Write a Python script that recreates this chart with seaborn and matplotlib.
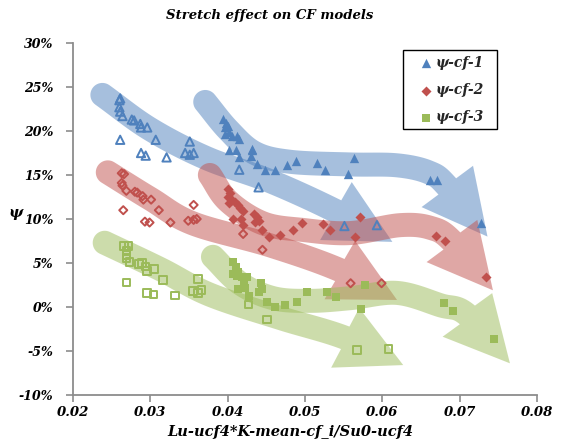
import numpy as np
import matplotlib
matplotlib.use("Agg")
import matplotlib.pyplot as plt
import seaborn as sns
from matplotlib.patches import Polygon, Rectangle
from matplotlib.ticker import FuncFormatter

# ---------------- data (x, psi in %) ----------------
series_labels = ["\u03c8-cf-1", "\u03c8-cf-2", "\u03c8-cf-3"]

cf1_open_x = [0.0261, 0.0260, 0.0260, 0.0261, 0.0264, 0.0276, 0.0279, 0.0287, 0.0288, 0.0296, 0.0261, 0.0307,
              0.0351, 0.0288, 0.0294, 0.0321, 0.0345, 0.0351, 0.0356, 0.0415, 0.0440, 0.0551, 0.0593]
cf1_open_y = [23.7, 23.5, 22.7, 22.2, 21.7, 21.3, 21.2, 20.8, 20.4, 20.4, 19.0, 19.0,
              18.8, 17.5, 17.2, 17.0, 17.5, 17.3, 17.5, 15.6, 13.6, 9.2, 9.3]
cf1_fill_x = [0.0394, 0.0398, 0.0397, 0.0400, 0.0396, 0.0402, 0.0405, 0.0412, 0.0415, 0.0402, 0.0411, 0.0415,
              0.0431, 0.0432, 0.0430, 0.0438, 0.0448, 0.0461, 0.0477, 0.0489, 0.0516, 0.0526, 0.0556, 0.0564,
              0.0662, 0.0671, 0.0727]
cf1_fill_y = [21.4, 20.9, 20.5, 20.6, 19.7, 19.9, 19.4, 19.4, 19.1, 17.8, 17.8, 17.1,
              18.0, 17.8, 17.2, 16.3, 15.6, 15.6, 16.1, 16.6, 16.4, 15.6, 15.1, 16.9,
              14.4, 14.4, 9.5]

cf2_open_x = [0.0263, 0.0266, 0.0263, 0.0264, 0.0269, 0.0280, 0.0283, 0.0290, 0.0291, 0.0301, 0.0265, 0.0311,
              0.0356, 0.0293, 0.0299, 0.0326, 0.0349, 0.0356, 0.0360, 0.0420, 0.0445, 0.0559, 0.0599]
cf2_open_y = [15.2, 15.1, 14.1, 13.8, 13.2, 13.1, 13.0, 12.6, 12.2, 12.2, 11.0, 11.0,
              11.6, 9.7, 9.6, 9.6, 9.8, 9.9, 10.0, 8.3, 6.5, 2.7, 2.7]
cf2_fill_x = [0.0400, 0.0403, 0.0401, 0.0405, 0.0402, 0.0410, 0.0414, 0.0416, 0.0420, 0.0407, 0.0417, 0.0420,
              0.0434, 0.0438, 0.0435, 0.0440, 0.0444, 0.0454, 0.0468, 0.0484, 0.0496, 0.0523, 0.0532, 0.0571,
              0.0565, 0.0670, 0.0681, 0.0734]
cf2_fill_y = [13.4, 12.9, 12.5, 12.2, 11.8, 11.9, 11.6, 11.2, 10.9, 10.0, 10.0, 9.3,
              10.6, 10.2, 9.7, 9.8, 8.7, 7.9, 8.2, 8.7, 9.5, 9.4, 8.8, 10.2,
              7.9, 8.1, 7.5, 3.4]

cf3_open_x = [0.0266, 0.0272, 0.0269, 0.0269, 0.0269, 0.0273, 0.0285, 0.0289, 0.0294, 0.0296, 0.0305, 0.0269,
              0.0316, 0.0362, 0.0296, 0.0304, 0.0332, 0.0355, 0.0362, 0.0366, 0.0427, 0.0451, 0.0567, 0.0608]
cf3_open_y = [6.9, 6.9, 6.4, 5.9, 5.5, 5.1, 4.9, 5.0, 4.6, 4.1, 4.3, 2.8,
              3.1, 3.2, 1.6, 1.4, 1.3, 1.8, 1.6, 1.9, 0.3, -1.4, -4.9, -4.8]
cf3_fill_x = [0.0407, 0.0411, 0.0407, 0.0414, 0.0412, 0.0418, 0.0425, 0.0421, 0.0414, 0.0423, 0.0443, 0.0444,
              0.0441, 0.0427, 0.0451, 0.0461, 0.0474, 0.0490, 0.0502, 0.0529, 0.0540, 0.0578, 0.0572,
              0.0680, 0.0691, 0.0745]
cf3_fill_y = [5.1, 4.5, 3.8, 4.0, 3.5, 3.4, 3.4, 2.9, 2.1, 2.2, 2.7, 2.0,
              1.7, 1.3, 0.6, 0.0, 0.2, 0.6, 1.7, 1.7, 1.1, 2.5, -0.2,
              0.5, -0.4, -3.6]

x_ticks = [0.02, 0.03, 0.04, 0.05, 0.06, 0.07, 0.08]
y_ticks = [-10, -5, 0, 5, 10, 15, 20, 25, 30]

# annotation arrows (trend sketches): centreline points and tip, in data units
arrow_blue_1 = [(0.0238, 24.1), (0.0300, 20.2), (0.0373, 16.9), (0.0455, 14.3), (0.0540, 10.9)]
arrow_blue_1_tip = (0.0613, 7.4)
arrow_blue_2 = [(0.0371, 23.3), (0.0401, 20.1), (0.0435, 17.5), (0.0481, 16.5), (0.0558, 16.2),
                (0.0619, 16.1), (0.0660, 15.3), (0.0684, 13.7)]
arrow_blue_2_tip = (0.0736, 8.0)
arrow_red_1 = [(0.0245, 15.3), (0.0300, 12.3), (0.0355, 9.5), (0.0455, 7.0), (0.0545, 4.2)]
arrow_red_1_tip = (0.0619, 0.8)
arrow_red_2 = [(0.0377, 15.0), (0.0401, 12.0), (0.0446, 9.5), (0.0498, 8.75), (0.0558, 8.4),
               (0.0623, 9.3), (0.0662, 9.0), (0.0690, 7.5)]
arrow_red_2_tip = (0.0743, 1.9)
arrow_green_1 = [(0.0241, 7.3), (0.0313, 4.3), (0.0377, 1.4), (0.0468, -1.25), (0.0552, -3.5)]
arrow_green_1_tip = (0.0627, -6.6)
arrow_green_2 = [(0.0381, 5.7), (0.0416, 2.7), (0.0459, 1.0), (0.0507, 0.7), (0.0558, 1.0),
                 (0.0619, 1.6), (0.0675, 0.2), (0.0710, -0.9)]
arrow_green_2_tip = (0.0765, -6.4)

# ---------------- style ----------------
BLUE, RED, GREEN = "#4F81BD", "#C0504D", "#9BBB59"
sns.set_theme(style="white")
FONT = ["DejaVu Serif"]
plt.rcParams['font.family'] = FONT

W, H = 570, 446
AX_L, AX_R, AX_T, AX_B = 73, 537, 43, 395
fig = plt.figure(figsize=(W / 100, H / 100), dpi=100)
ax = fig.add_axes([AX_L / W, 1 - AX_B / H, (AX_R - AX_L) / W, (AX_B - AX_T) / H])
ax.set_xlim(0.02, 0.08)
ax.set_ylim(-10, 30)


def catmull(P, n=24):
    out = []
    for i in range(1, len(P) - 2):
        p0, p1, p2, p3 = P[i - 1], P[i], P[i + 1], P[i + 2]
        for t in np.linspace(0, 1, n, endpoint=False):
            t2, t3 = t * t, t * t * t
            out.append(0.5 * ((2 * p1) + (-p0 + p2) * t + (2 * p0 - 5 * p1 + 4 * p2 - p3) * t2
                              + (-p0 + 3 * p1 - 3 * p2 + p3) * t3))
    out.append(P[-2])
    return np.array(out)


def draw_arrow(ax, pts, tip, color, band=24, head_w=66):
    tr = ax.transData
    P = tr.transform(np.array(pts, dtype=float))
    T = tr.transform(np.array([tip], dtype=float))[0]
    ext = np.vstack([2 * P[0] - P[1], P, T])
    C = catmull(ext)
    d = np.gradient(C, axis=0)
    d /= np.linalg.norm(d, axis=1)[:, None]
    nrm = np.column_stack([-d[:, 1], d[:, 0]])
    h = band / 2
    left = C + h * nrm
    right = C - h * nrm
    M = C[-1]
    dh = (T - M) / np.linalg.norm(T - M)
    nh = np.array([-dh[1], dh[0]])
    head = np.array([M + head_w / 2 * nh, T, M - head_w / 2 * nh])
    t0, n0 = d[0], nrm[0]
    th = np.linspace(0, np.pi, 24)
    cap = np.array([C[0] + h * (np.cos(a) * (-n0) + np.sin(a) * (-t0)) for a in th])
    poly = np.vstack([left, head, right[::-1], cap])
    polyd = tr.inverted().transform(poly)
    ax.add_patch(Polygon(polyd, closed=True, facecolor=color, alpha=0.5,
                         edgecolor='none', zorder=1))


draw_arrow(ax, arrow_blue_1, arrow_blue_1_tip, BLUE)
draw_arrow(ax, arrow_blue_2, arrow_blue_2_tip, BLUE)
draw_arrow(ax, arrow_red_1, arrow_red_1_tip, RED)
draw_arrow(ax, arrow_red_2, arrow_red_2_tip, RED)
draw_arrow(ax, arrow_green_1, arrow_green_1_tip, GREEN)
draw_arrow(ax, arrow_green_2, arrow_green_2_tip, GREEN)

# hollow markers
sns.scatterplot(x=cf1_open_x, y=cf1_open_y, marker='^', s=36, color=BLUE, facecolor='none',
                edgecolor=BLUE, linewidth=1.4, ax=ax, zorder=3)
sns.scatterplot(x=cf2_open_x, y=cf2_open_y, marker='D', s=17, color=RED, facecolor='none',
                edgecolor=RED, linewidth=1.4, ax=ax, zorder=3)
sns.scatterplot(x=cf3_open_x, y=cf3_open_y, marker='s', s=30, color=GREEN, facecolor='none',
                edgecolor=GREEN, linewidth=1.4, ax=ax, zorder=3)
# filled markers
sns.scatterplot(x=cf1_fill_x, y=cf1_fill_y, marker='^', s=45, color=BLUE, edgecolor=BLUE,
                linewidth=0, ax=ax, zorder=4, label=series_labels[0])
sns.scatterplot(x=cf2_fill_x, y=cf2_fill_y, marker='D', s=26, color=RED, edgecolor=RED,
                linewidth=0, ax=ax, zorder=4, label=series_labels[1])
sns.scatterplot(x=cf3_fill_x, y=cf3_fill_y, marker='s', s=32, color=GREEN, edgecolor=GREEN,
                linewidth=0, ax=ax, zorder=4, label=series_labels[2])

# axes styling
ax.set_xticks(x_ticks)
ax.set_yticks(y_ticks)
ax.xaxis.set_major_formatter(FuncFormatter(lambda v, p: f"{v:.2f}"))
ax.yaxis.set_major_formatter(FuncFormatter(lambda v, p: f"{int(round(v))}%"))
for side in ["top", "right"]:
    ax.spines[side].set_visible(False)
for side in ["left", "bottom"]:
    ax.spines[side].set_color("#8c8c8c")
    ax.spines[side].set_linewidth(1.3)
ax.tick_params(axis='both', which='major', direction='out', length=5, width=1.2,
               color="#8c8c8c", labelsize=9, bottom=True, left=True)
ax.tick_params(axis='y', pad=9)
ax.tick_params(axis='x', pad=3, labelsize=9.5)
for lab in ax.get_xticklabels() + ax.get_yticklabels():
    lab.set_fontstyle('italic')
    lab.set_fontweight('bold')
    lab.set_color('black')

ax.set_xlabel("Lu-ucf4*K-mean-cf_i/Su0-ucf4", fontsize=10.5, fontweight='bold',
              fontstyle='italic', color='black')
ax.xaxis.set_label_coords((290 - AX_L) / (AX_R - AX_L), (AX_B - 432) / (AX_B - AX_T))
ax.xaxis.label.set_va('center')
ax.set_ylabel("\u03c8", fontsize=11, fontweight='bold', fontstyle='italic',
              color='black', rotation=0, va='center', ha='center')
ax.yaxis.set_label_coords((16 - AX_L) / (AX_R - AX_L), (AX_B - 213) / (AX_B - AX_T))
fig.text(270 / W, 1 - 15 / H, "Stretch effect on CF models", ha='center', va='center',
         fontsize=9.5, fontweight='bold', fontstyle='italic', color='black')

# legend box drawn as a rectangle, entries placed inside without frame
bx0, by0, bx1, by1 = 403, 50, 497, 129
ax.add_patch(Rectangle(((bx0 - AX_L) / (AX_R - AX_L), (AX_B - by1) / (AX_B - AX_T)),
                       (bx1 - bx0) / (AX_R - AX_L), (by1 - by0) / (AX_B - AX_T),
                       transform=ax.transAxes, facecolor='white', edgecolor='black',
                       linewidth=1.0, zorder=5, clip_on=False))
leg = ax.legend(loc='upper left', bbox_to_anchor=((419 - AX_L) / (AX_R - AX_L), (AX_B - 56) / (AX_B - AX_T)),
                frameon=False, borderpad=0, labelspacing=0.95,
                handletextpad=0.2, handlelength=1.0, borderaxespad=0,
                prop={'family': FONT, 'weight': 'bold', 'style': 'italic', 'size': 10})
leg.set_zorder(6)

fig.savefig("out.png", dpi=100)
